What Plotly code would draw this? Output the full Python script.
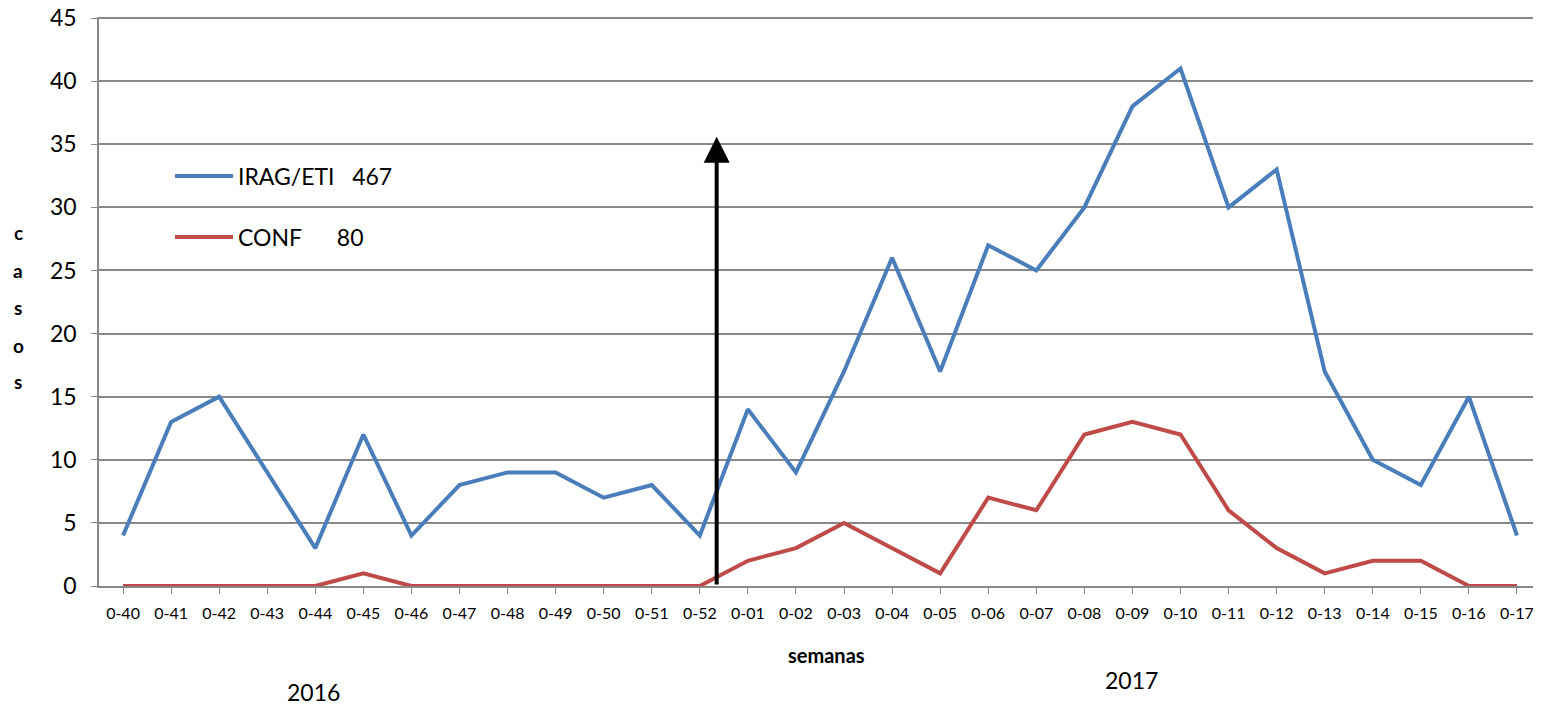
import plotly.graph_objects as go

weeks = ["0-40","0-41","0-42","0-43","0-44","0-45","0-46","0-47","0-48","0-49","0-50","0-51","0-52",
         "0-01","0-02","0-03","0-04","0-05","0-06","0-07","0-08","0-09","0-10","0-11","0-12","0-13",
         "0-14","0-15","0-16","0-17"]
irag = [4,13,15,9,3,12,4,8,9,9,7,8,4,
        14,9,17,26,17,27,25,30,38,41,30,33,17,10,8,15,4]
conf = [0,0,0,0,0,1,0,0,0,0,0,0,0,
        2,3,5,3,1,7,6,12,13,12,6,3,1,2,2,0,0]
series_names = ["IRAG/ETI\u00a0\u00a0\u00a0467", "CONF\u00a0\u00a0\u00a0\u00a0\u00a0\u00a080"]
arrow_x = 12.35
arrow_top = 35.6

OFF = 8  # page body margin
W, H = 1541 - OFF, 711 - OFF
L, R, T, B = 99 - OFF, 0, 17 - OFF, 711 - 586
pw, ph = W - L - R, H - T - B
YMAX = 45.08

def px(x):  # page pixel -> paper
    return (x - OFF - L) / pw

def py(y):
    return (586 - y) / ph

FONT = "Lato, 'Open Sans', sans-serif"
xs = list(range(len(weeks)))

fig = go.Figure()
fig.add_trace(go.Scatter(x=xs, y=irag, mode="lines", name=series_names[0],
                         line=dict(color="#4A7EBB", width=4), legend="legend", showlegend=True))
fig.add_trace(go.Scatter(x=xs, y=conf, mode="lines", name=series_names[1],
                         line=dict(color="#BE4B48", width=4), legend="legend2", showlegend=True))

fig.add_annotation(x=arrow_x, y=arrow_top, ax=arrow_x, ay=0, xref="x", yref="y",
                   axref="x", ayref="y", showarrow=True, arrowhead=2, arrowsize=1.3,
                   arrowwidth=4, arrowcolor="black", text="")

for txt, xx, yy, sz, bold in [("semanas", 826, 655, 20, True), ("2016", 313, 692, 23, False),
                              ("2017", 1131, 680, 23, False)]:
    fig.add_annotation(text=f"<b>{txt}</b>" if bold else txt, x=px(xx), y=py(yy),
                       xref="paper", yref="paper", showarrow=False,
                       xanchor="center", yanchor="middle",
                       font=dict(family=FONT, size=sz, color="black"))

for ch, yy in zip("casos", [232, 270, 307, 345, 382]):
    fig.add_annotation(text=f"<b>{ch}</b>", x=px(18), y=py(yy), xref="paper", yref="paper",
                       showarrow=False, xanchor="center", yanchor="middle",
                       font=dict(family=FONT, size=19, color="black"))

leg_common = dict(xanchor="left", yanchor="middle", itemwidth=58,
                  font=dict(size=23, family=FONT, color="black"), bgcolor="rgba(0,0,0,0)")
fig.update_layout(
    width=W, height=H, margin=dict(l=L, r=R, t=T, b=B, autoexpand=False),
    paper_bgcolor="white", plot_bgcolor="white", showlegend=True,
    font=dict(family=FONT, color="black"),
    legend=dict(x=px(170), y=py(176), **leg_common),
    legend2=dict(x=px(170), y=py(237), **leg_common),
    xaxis=dict(range=[-0.5, len(weeks) - 0.5], tickmode="array", tickvals=xs, ticktext=weeks,
               tickson="boundaries", ticks="outside", ticklen=6, tickcolor="#888",
               showline=True, linecolor="#888", linewidth=1.5, showgrid=False, zeroline=False,
               automargin=False, ticklabelstandoff=6, tickfont=dict(size=16, family=FONT)),
    yaxis=dict(range=[0, YMAX], tickmode="array", tickvals=list(range(0, 46, 5)),
               ticks="outside", ticklen=6, tickcolor="#888", ticklabeloverflow="allow",
               ticklabelstandoff=10, automargin=False,
               showline=True, linecolor="#888", linewidth=1.5, gridcolor="#888888",
               gridwidth=1.5, zeroline=False, tickfont=dict(size=23, family=FONT)),
)

fig.write_html("out.html")
